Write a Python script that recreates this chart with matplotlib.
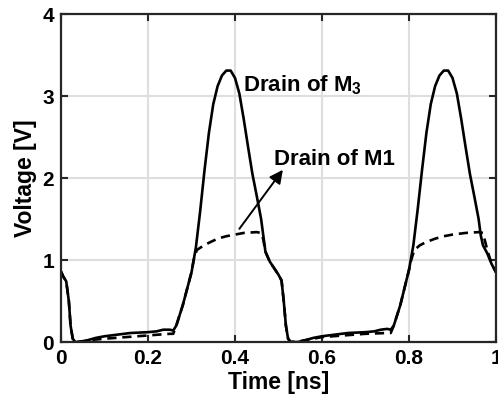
import matplotlib
matplotlib.use("Agg")
import matplotlib.pyplot as plt

plt.rcParams['font.family'] = ['Liberation Sans', 'DejaVu Sans']
plt.rcParams['font.weight'] = 'bold'
plt.rcParams['mathtext.fontset'] = 'custom'
plt.rcParams['mathtext.rm'] = 'Liberation Sans:bold'
plt.rcParams['mathtext.bf'] = 'Liberation Sans:bold'

# drain of M3 (solid)
t_m3 = [0.0, 0.005, 0.012, 0.018, 0.022, 0.027, 0.033, 0.045, 0.06, 0.08, 0.10, 0.13,
        0.16, 0.20, 0.22, 0.235, 0.25, 0.258, 0.265, 0.28, 0.30, 0.31, 0.32, 0.33,
        0.34, 0.35, 0.36, 0.37, 0.38, 0.39, 0.40, 0.41, 0.42, 0.43, 0.44, 0.45,
        0.46, 0.465, 0.47, 0.48, 0.49, 0.50, 0.507, 0.512, 0.517, 0.522, 0.528,
        0.545, 0.56, 0.58, 0.60, 0.63, 0.66, 0.70, 0.72, 0.735, 0.75, 0.758,
        0.765, 0.78, 0.80, 0.81, 0.82, 0.83, 0.84, 0.85, 0.86, 0.87, 0.88, 0.89,
        0.90, 0.91, 0.92, 0.93, 0.94, 0.95, 0.96, 0.965, 0.97, 0.98, 0.99, 1.0]
v_m3 = [0.86, 0.80, 0.74, 0.50, 0.20, 0.04, 0.0, 0.0, 0.02, 0.05, 0.07, 0.09,
        0.11, 0.12, 0.13, 0.15, 0.15, 0.14, 0.20, 0.45, 0.85, 1.15, 1.60, 2.10,
        2.55, 2.90, 3.12, 3.25, 3.31, 3.31, 3.22, 3.03, 2.72, 2.38, 2.05, 1.78,
        1.50, 1.30, 1.10, 0.98, 0.90, 0.82, 0.75, 0.50, 0.20, 0.04, 0.0,
        0.0, 0.02, 0.05, 0.07, 0.09, 0.11, 0.12, 0.13, 0.15, 0.16, 0.15,
        0.20, 0.45, 0.88, 1.18, 1.62, 2.10, 2.55, 2.90, 3.12, 3.25, 3.31, 3.31,
        3.22, 3.03, 2.72, 2.38, 2.05, 1.78, 1.50, 1.30, 1.18, 1.08, 0.95, 0.85]

# drain of M1 (dashed)
t_m1 = [0.0, 0.005, 0.012, 0.018, 0.022, 0.027, 0.033, 0.05, 0.08, 0.10, 0.15,
        0.20, 0.25, 0.258, 0.265, 0.28, 0.30, 0.305, 0.312, 0.32, 0.34, 0.36,
        0.38, 0.40, 0.42, 0.45, 0.46, 0.465, 0.47, 0.48, 0.49, 0.50, 0.507,
        0.512, 0.517, 0.522, 0.528, 0.55, 0.58, 0.60, 0.65, 0.70, 0.75, 0.758,
        0.765, 0.78, 0.80, 0.805, 0.812, 0.825, 0.84, 0.86, 0.88, 0.90, 0.93,
        0.96, 0.97, 0.98, 0.99, 1.0]
v_m1 = [0.86, 0.80, 0.74, 0.50, 0.20, 0.04, 0.0, 0.01, 0.03, 0.04, 0.06,
        0.08, 0.10, 0.10, 0.20, 0.45, 0.85, 1.0, 1.12, 1.15, 1.21, 1.26,
        1.29, 1.31, 1.33, 1.34, 1.33, 1.25, 1.10, 0.98, 0.90, 0.82, 0.75,
        0.50, 0.20, 0.04, 0.0, 0.01, 0.04, 0.06, 0.08, 0.10, 0.11, 0.11,
        0.20, 0.45, 0.88, 1.0, 1.12, 1.18, 1.22, 1.26, 1.29, 1.31, 1.33,
        1.34, 1.33, 1.12, 0.95, 0.85]

xticks = [0, 0.2, 0.4, 0.6, 0.8, 1]
xticklabels = ['0', '0.2', '0.4', '0.6', '0.8', '1']
yticks = [0, 1, 2, 3, 4]

fig = plt.figure(figsize=(4.98, 4.07), dpi=100)
ax = fig.add_axes([0.1225, 0.1597, 0.8735, 0.8059])

ax.plot(t_m3, v_m3, color='black', linewidth=1.9)
ax.plot(t_m1, v_m1, color='black', linewidth=1.9, linestyle=(0, (3.5, 2.2)))

ax.set_xlim(0, 1)
ax.set_ylim(0, 4)
ax.set_xticks(xticks)
ax.set_xticklabels(xticklabels)
ax.set_yticks(yticks)
ax.grid(True, color='#dedede', linewidth=1.5)
ax.set_axisbelow(True)
ax.tick_params(direction='in', top=True, right=True, length=5, width=1.5,
               labelsize=15, colors='#262626', pad=5)
for lab in ax.get_xticklabels() + ax.get_yticklabels():
    lab.set_color('black')
for s in ax.spines.values():
    s.set_linewidth(1.6)
    s.set_color('#262626')

ax.set_xlabel('Time [ns]', fontsize=16.5, fontweight='bold', labelpad=2)
ax.set_ylabel('Voltage [V]', fontsize=16.5, fontweight='bold', labelpad=4)

ax.text(0.418, 3.13, r'Drain of M$_{\mathbf{3}}$', fontsize=16, fontweight='bold',
        va='center', ha='left')
ax.text(0.49, 2.22, 'Drain of M1', fontsize=16, fontweight='bold',
        va='center', ha='left')
ax.annotate('', xy=(0.51, 2.1), xytext=(0.41, 1.38),
            arrowprops=dict(arrowstyle='-|>', color='black', lw=1.4,
                            mutation_scale=20, shrinkA=0, shrinkB=0))

fig.savefig('out.png', dpi=100)
